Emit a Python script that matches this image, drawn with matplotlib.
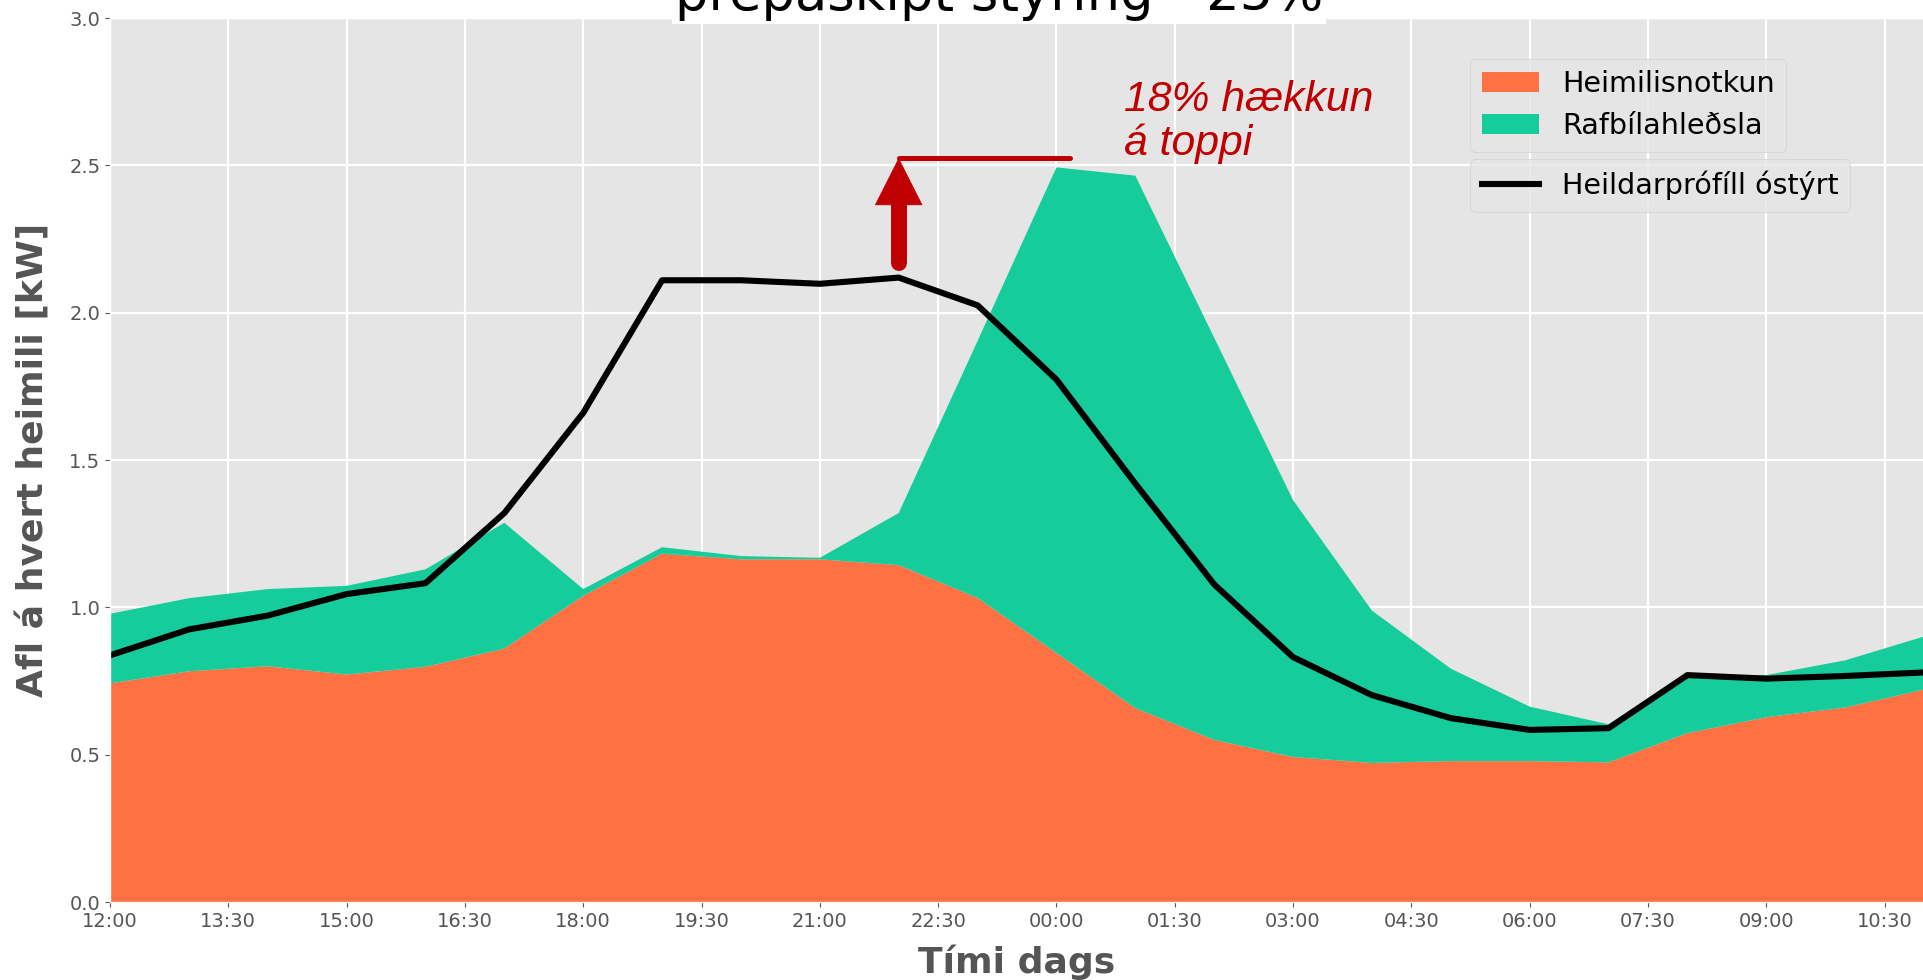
import numpy as np
import matplotlib
matplotlib.use("Agg")
import matplotlib.pyplot as plt

plt.style.use("ggplot")

# Hourly values from 12:00 to 11:00 next day
HOURS = list(range(24))
HOUSEHOLD = [0.742, 0.783, 0.800, 0.772, 0.798, 0.860, 1.039, 1.182, 1.163, 1.163, 1.143, 1.032,
             0.845, 0.658, 0.550, 0.492, 0.472, 0.478, 0.478, 0.474, 0.573, 0.627, 0.660, 0.721]
EV_CHARGING = [0.236, 0.248, 0.262, 0.301, 0.331, 0.427, 0.023, 0.022, 0.011, 0.005, 0.177, 0.872,
               1.648, 1.807, 1.365, 0.872, 0.517, 0.314, 0.185, 0.129, 0.197, 0.143, 0.160, 0.180]
UNCONTROLLED = [0.837, 0.925, 0.972, 1.045, 1.082, 1.320, 1.660, 2.110, 2.110, 2.098, 2.119, 2.025,
                1.773, 1.420, 1.078, 0.831, 0.702, 0.624, 0.584, 0.590, 0.770, 0.758, 0.767, 0.779]

TICK_LABELS = ["12:00", "13:30", "15:00", "16:30", "18:00", "19:30", "21:00", "22:30",
               "00:00", "01:30", "03:00", "04:30", "06:00", "07:30", "09:00", "10:30"]

# Peak annotation (hours since 12:00, kW)
OLD_PEAK_HOUR = 10
ARROW_START = 2.17
NEW_PEAK = 2.525
PEAK_LINE_END = 12.17

ORANGE = "#FF7043"
TEAL = "#17CC9B"
RED = "#C00000"
GREY = "#555555"

fig = plt.figure(figsize=(19.24, 9.8), dpi=100)
ax = fig.add_axes([110 / 1924, 78 / 980, 1814 / 1924, 884 / 980])

ax.stackplot(HOURS, HOUSEHOLD, EV_CHARGING, colors=[ORANGE, TEAL],
             labels=["Heimilisnotkun", "Rafbílahleðsla"])
line, = ax.plot(HOURS, UNCONTROLLED, color="black", linewidth=4.4,
                label="Heildarprófíll óstýrt")

ax.set_xlim(0, 23)
ax.set_ylim(0, 3.0)
ax.set_xticks(np.arange(0, 23, 1.5))
ax.set_xticklabels(TICK_LABELS)
ax.set_yticks(np.arange(0, 3.01, 0.5))
ax.tick_params(labelsize=14, colors=GREY)
ax.grid(True, color="white", linewidth=1.6)

ax.set_xlabel("Tími dags", fontsize=26, fontweight="bold", color=GREY, labelpad=10)
ax.set_ylabel("Afl á hvert heimili [kW]", fontsize=26, fontweight="bold", color=GREY, labelpad=14)

ax.text(0.49, 1.009, "þrepaskipt stýring - 25%", transform=ax.transAxes,
        ha="center", va="baseline", fontsize=38, color="black",
        bbox=dict(facecolor="white", edgecolor="none", pad=2))

# Arrow and line showing the raised peak
ax.plot([OLD_PEAK_HOUR, OLD_PEAK_HOUR], [ARROW_START, 2.38], color=RED,
        linewidth=11.5, solid_capstyle="round")
ax.annotate("", xy=(OLD_PEAK_HOUR, NEW_PEAK), xytext=(OLD_PEAK_HOUR, 2.36),
            arrowprops=dict(arrowstyle="-|>,head_length=0.83,head_width=0.42",
                            mutation_scale=40, color=RED, lw=0.5,
                            shrinkA=0, shrinkB=0))
ax.plot([OLD_PEAK_HOUR, PEAK_LINE_END], [NEW_PEAK, NEW_PEAK], color=RED,
        linewidth=3.6, solid_capstyle="round")
ax.text(12.86, 2.535, "18% hækkun\ná toppi", fontsize=30.8, color=RED,
        style="italic", family="Liberation Sans", ha="left", va="baseline",
        linespacing=1.1)

handles, labels = ax.get_legend_handles_labels()
leg1 = ax.legend(handles[:2], labels[:2], loc="upper left",
                 bbox_to_anchor=(0.75, 0.954), fontsize=20.6, borderaxespad=0)
ax.add_artist(leg1)
ax.legend([line], ["Heildarprófíll óstýrt"], loc="upper left",
          bbox_to_anchor=(0.75, 0.840), fontsize=20.6, borderaxespad=0)

fig.savefig("out.png", dpi=100)
